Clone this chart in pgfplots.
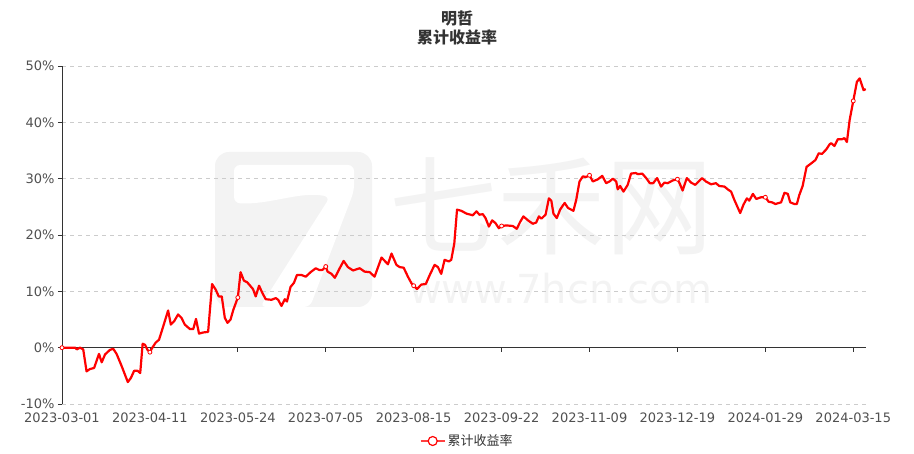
\documentclass[border=0pt]{standalone}
\usepackage{pgfplots}
\pgfplotsset{compat=1.18}
\usepackage{pgfplotstable}
\usepackage{fontspec}
\setmainfont{DejaVu Sans}
\newfontfamily\cjk{Noto Sans CJK SC}
\definecolor{lred}{RGB}{255,0,0}
\definecolor{wm}{RGB}{243,243,243}
\definecolor{txt}{RGB}{51,51,51}
\definecolor{lbl}{RGB}{80,80,80}
\definecolor{gridc}{RGB}{204,204,204}

\pgfplotstableread{
x y
0 0
4.3 0
4.9 -0.3
5.9 0
7.0 -0.3
8.1 -4.2
9.2 -3.8
10.6 -3.6
12.2 -1.1
13.1 -2.6
14.2 -1.2
15.8 -0.4
16.9 -0.2
18.0 -1.1
19.7 -3.3
21.7 -6.1
22.7 -5.4
23.8 -4.1
24.9 -4.1
25.8 -4.5
26.6 0.7
27.4 0.5
28.2 -0.4
29 -0.8
29.8 0
30.9 0.9
32.0 1.4
33.4 3.8
35.0 6.6
35.9 4.1
37.0 4.7
38.3 5.9
39.4 5.3
40.5 4.1
42.2 3.3
43.3 3.3
44.2 5.1
45.2 2.5
46.6 2.7
48.2 2.8
49.5 11.3
50.7 10.3
51.7 9.1
52.7 9.1
53.7 5.3
54.6 4.4
55.6 5.0
56.5 6.7
58 8.9
58.9 13.4
60.0 11.9
61.1 11.6
63.0 10.4
63.9 9.1
65.0 11.0
66.1 9.7
67.2 8.6
69.1 8.5
70.5 8.8
71.3 8.5
72.4 7.4
73.5 8.6
74.2 8.2
75.4 10.8
76.5 11.5
77.5 12.9
79.0 12.9
80.4 12.6
82.0 13.4
83.7 14.1
84.8 13.8
85.9 13.8
87 14.4
87.6 13.5
88.9 13.1
90.0 12.4
91.6 14.1
92.9 15.4
94.3 14.3
96.0 13.7
98.2 14.1
99.8 13.5
101.5 13.4
103.1 12.6
105.4 16.0
107.5 14.8
108.7 16.7
110.3 14.7
111.4 14.3
112.7 14.2
114.1 12.6
115.3 11.4
116 11.0
117.1 10.4
118.5 11.2
120.0 11.3
121.3 12.9
122.9 14.7
124.0 14.3
125.1 13.1
126.2 15.6
127.6 15.3
128.4 15.6
129.4 18.5
130.3 24.5
131.7 24.3
133.4 23.8
135.5 23.5
136.7 24.2
137.7 23.6
138.8 23.7
139.7 23.0
140.8 21.5
141.9 22.6
143.0 22.1
144.1 21.2
145 21.6
146.6 21.7
148.7 21.6
150.0 21.1
151.2 22.4
152.2 23.3
153.7 22.6
155.3 22.0
156.4 22.2
157.3 23.3
158.1 22.9
159.5 23.6
160.6 26.5
161.4 26.1
162.1 23.8
163.2 23.0
164.3 24.5
165.8 25.7
166.9 24.8
168.7 24.3
169.6 26.2
170.7 29.5
171.8 30.4
172.9 30.3
174 30.6
175.1 29.5
176.8 29.9
178.2 30.5
179.5 29.2
180.6 29.5
181.7 30.0
182.8 29.5
183.3 28.1
184.1 28.7
185.2 27.7
186.6 28.9
187.7 30.9
189.2 31.0
190.0 30.8
191.4 30.9
192.7 30.1
193.9 29.2
195.0 29.2
196.3 30.1
197.6 28.6
198.7 29.3
199.8 29.2
201.5 29.7
203 29.9
203.7 29.2
204.7 27.9
206.1 30.1
207.5 29.3
208.9 28.9
211.1 30.1
212.4 29.5
214.1 29.0
215.7 29.2
216.8 28.7
218.5 28.6
219.6 28.1
220.7 27.7
221.8 26.2
223.7 23.9
224.8 25.4
225.9 26.5
226.7 26.1
227.9 27.3
229.0 26.4
230.6 26.7
232 26.7
233.1 25.9
234.2 25.8
235.3 25.5
237.2 25.8
238.3 27.5
239.4 27.3
240.2 25.8
241.6 25.5
242.4 25.5
243.2 27.1
244.3 28.7
245.6 32.1
247.1 32.7
248.5 33.3
249.6 34.5
250.7 34.4
252.1 35.2
253.2 36.1
253.7 36.3
254.8 35.8
255.9 37.0
257.3 37.0
258.1 37.2
258.9 36.5
259.8 40.4
261 43.8
262.2 47.2
263.1 47.8
264.4 45.7
265.1 45.9
}\cumret

\pgfplotstableread{
x y
0 0
29 -0.8
58 8.9
87 14.4
116 11.0
145 21.6
174 30.6
203 29.9
232 26.7
261 43.8
}\marks

\begin{document}
\begin{tikzpicture}[x=1pt,y=1pt]
\useasboundingbox (0,0) rectangle (914,453);
% watermark
\fill[wm, rounded corners=14pt] (215,146) rectangle (372,301);
\fill[white, rounded corners=6pt] (234,288) -- (354,288) -- (354,262) -- (310,146) -- (260,146) -- (330,256) .. controls (300,262) and (270,248) .. (234,250) -- cycle;
\node[text=wm, font=\cjk\fontsize{108}{108}\selectfont, inner sep=0pt] at (551,247) {七禾网};
\node[text=wm, font=\fontsize{40}{40}\selectfont, inner sep=0pt] at (561,164) {www.7hcn.com};
% title
\node[text=txt, font=\cjk\bfseries\fontsize{16}{16}\selectfont] at (457,435) {明哲};
\node[text=txt, font=\cjk\bfseries\fontsize{16}{16}\selectfont] at (457,416) {累计收益率};
\begin{axis}[
 at={(62pt,49pt)}, anchor=south west, scale only axis,
 width=804pt, height=338pt,
 xmin=0, xmax=265.2, ymin=-10, ymax=50,
 axis y line*=left, axis x line*=middle,
 hide obscured x ticks=false,
 axis line style={txt, line width=0.8pt},
 xtick={0,29,58,87,116,145,174,203,232,261},
 xticklabels={2023-03-01,2023-04-11,2023-05-24,2023-07-05,2023-08-15,2023-09-22,2023-11-09,2023-12-19,2024-01-29,2024-03-15},
 ytick={-10,0,10,20,30,40,50},
 yticklabels={-10\%,0\%,10\%,20\%,30\%,40\%,50\%},
 tick align=outside, major tick length=4pt,
 every tick/.style={txt, line width=0.8pt},
 ymajorgrids, major grid style={gridc, dash pattern=on 4pt off 4pt, line width=0.8pt},
 tick label style={font=\fontsize{13}{15}\selectfont, text=lbl},
 xticklabel style={yshift=-58pt},
 legend style={at={(0.504,-0.1095)}, anchor=center, draw=none, fill=none,
   font=\cjk\fontsize{13}{15}\selectfont, text=txt, legend cell align=left},
]
\addplot[lred, line width=2.2pt, line join=round, forget plot] table {\cumret};
\addplot[only marks, mark=*, mark size=2pt, mark options={draw=lred, fill=white, line width=0.8pt}, forget plot] table {\marks};
\addlegendimage{legend image code/.code={\draw[red!75!white, line width=1.6pt] (0pt,0pt) -- (24pt,0pt); \draw[lred, line width=1.2pt, fill=white] (12pt,0pt) circle (4.5pt);}}
\addlegendentry{累计收益率}
\end{axis}
\end{tikzpicture}
\end{document}
